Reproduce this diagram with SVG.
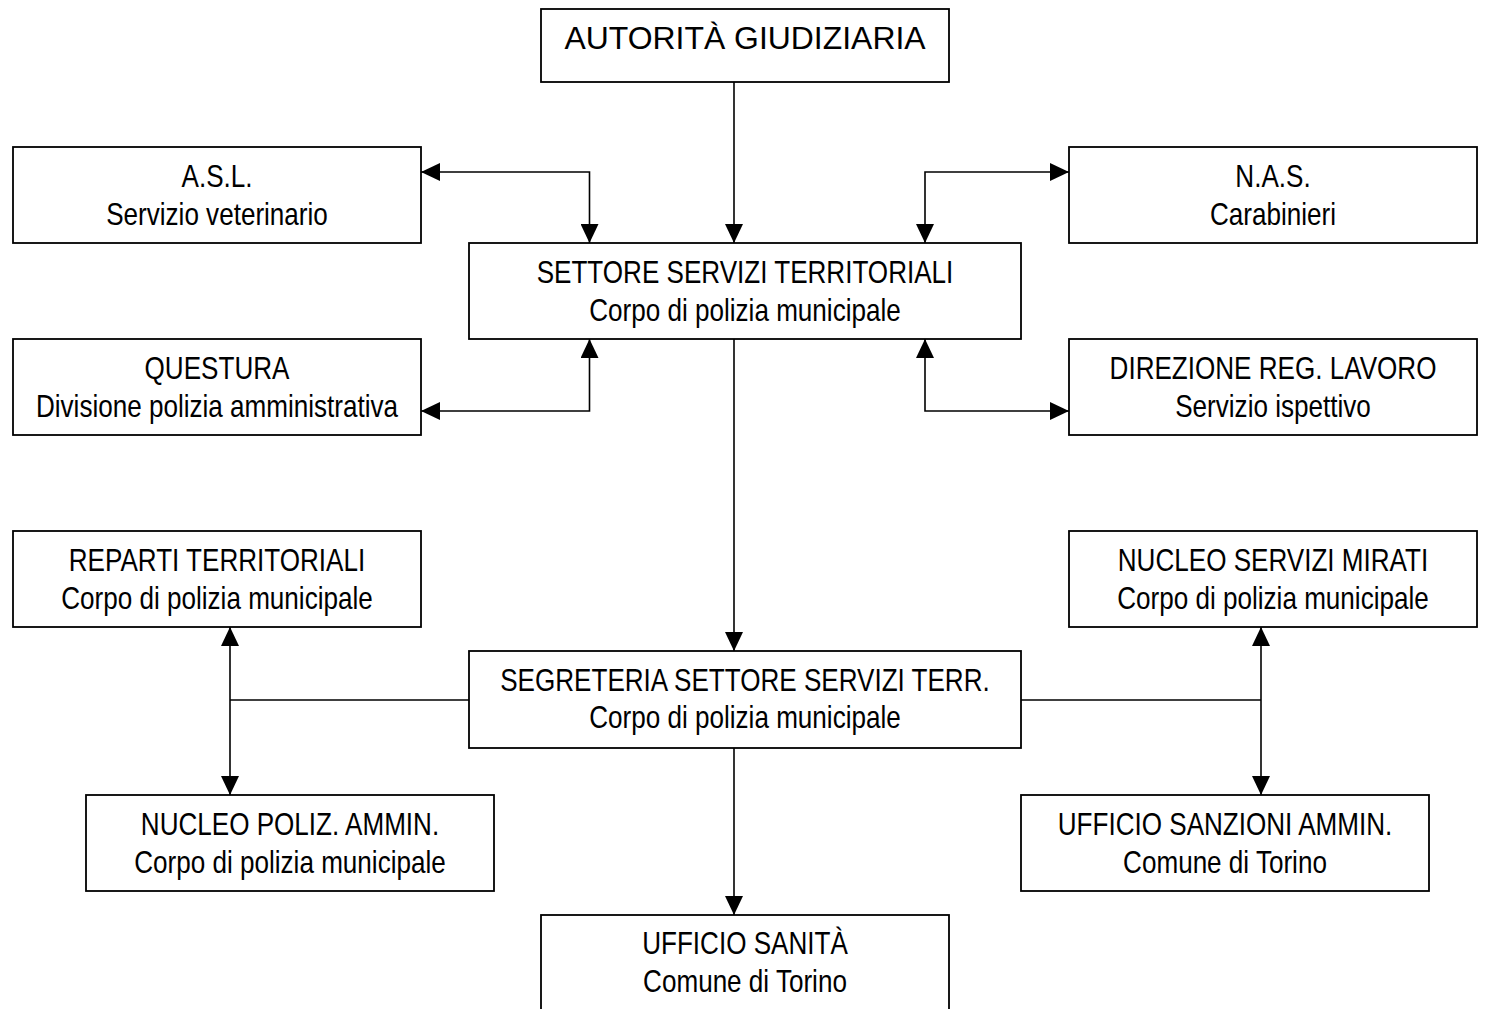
<svg xmlns="http://www.w3.org/2000/svg" width="1488" height="1009" viewBox="0 0 1488 1009">
<style>
.box{fill:#fff;stroke:#000;stroke-width:1.8}
.t{font-family:"Liberation Sans",Arial,sans-serif;font-size:30.5px;fill:#000;text-anchor:middle}
.c{fill:none;stroke:#000;stroke-width:1.6}
</style>
<defs>
<marker id="arr" viewBox="0 0 19 18" refX="19" refY="9" markerWidth="19" markerHeight="18" markerUnits="userSpaceOnUse" orient="auto-start-reverse">
<path d="M0,0 L19,9 L0,18 Z" fill="#000"/>
</marker>
</defs>
<rect width="1488" height="1009" fill="#fff"/>
<g id="connectors">
<path class="c" d="M734,82 V243" marker-end="url(#arr)"/>
<path class="c" d="M421,172 H589.5 V243" marker-start="url(#arr)" marker-end="url(#arr)"/>
<path class="c" d="M1069,172 H925 V243" marker-start="url(#arr)" marker-end="url(#arr)"/>
<path class="c" d="M421,411 H589.5 V339" marker-start="url(#arr)" marker-end="url(#arr)"/>
<path class="c" d="M1069,411 H925 V339" marker-start="url(#arr)" marker-end="url(#arr)"/>
<path class="c" d="M734,339 V651" marker-end="url(#arr)"/>
<path class="c" d="M469,700 H230"/>
<path class="c" d="M230,627 V795" marker-start="url(#arr)" marker-end="url(#arr)"/>
<path class="c" d="M1021,700 H1261"/>
<path class="c" d="M1261,627 V795" marker-start="url(#arr)" marker-end="url(#arr)"/>
<path class="c" d="M734,748 V915" marker-end="url(#arr)"/>
</g>
<g id="autorita">
<rect class="box" x="541" y="9" width="408" height="73"/>
<g transform="translate(745 0) scale(1.03 1)"><text class="t" x="0" y="49" style="font-size:31px">AUTORITÀ GIUDIZIARIA</text></g>
</g>
<g id="asl">
<rect class="box" x="13" y="147" width="408" height="96"/>
<g transform="translate(217 0) scale(0.855 1)"><text class="t" x="0" y="187">A.S.L.</text><text class="t" x="0" y="225">Servizio veterinario</text></g>
</g>
<g id="nas">
<rect class="box" x="1069" y="147" width="408" height="96"/>
<g transform="translate(1273 0) scale(0.855 1)"><text class="t" x="0" y="187">N.A.S.</text><text class="t" x="0" y="225">Carabinieri</text></g>
</g>
<g id="settore">
<rect class="box" x="469" y="243" width="552" height="96"/>
<g transform="translate(745 0) scale(0.855 1)"><text class="t" x="0" y="283">SETTORE SERVIZI TERRITORIALI</text><text class="t" x="0" y="321">Corpo di polizia municipale</text></g>
</g>
<g id="questura">
<rect class="box" x="13" y="339" width="408" height="96"/>
<g transform="translate(217 0) scale(0.855 1)"><text class="t" x="0" y="379">QUESTURA</text><text class="t" x="0" y="417">Divisione polizia amministrativa</text></g>
</g>
<g id="direzione">
<rect class="box" x="1069" y="339" width="408" height="96"/>
<g transform="translate(1273 0) scale(0.855 1)"><text class="t" x="0" y="379">DIREZIONE REG. LAVORO</text><text class="t" x="0" y="417">Servizio ispettivo</text></g>
</g>
<g id="reparti">
<rect class="box" x="13" y="531" width="408" height="96"/>
<g transform="translate(217 0) scale(0.855 1)"><text class="t" x="0" y="571">REPARTI TERRITORIALI</text><text class="t" x="0" y="609">Corpo di polizia municipale</text></g>
</g>
<g id="nucleo-servizi">
<rect class="box" x="1069" y="531" width="408" height="96"/>
<g transform="translate(1273 0) scale(0.855 1)"><text class="t" x="0" y="571">NUCLEO SERVIZI MIRATI</text><text class="t" x="0" y="609">Corpo di polizia municipale</text></g>
</g>
<g id="segreteria">
<rect class="box" x="469" y="651" width="552" height="97"/>
<g transform="translate(745 0) scale(0.855 1)"><text class="t" x="0" y="691">SEGRETERIA SETTORE SERVIZI TERR.</text><text class="t" x="0" y="728">Corpo di polizia municipale</text></g>
</g>
<g id="nucleo-poliz">
<rect class="box" x="86" y="795" width="408" height="96"/>
<g transform="translate(290 0) scale(0.855 1)"><text class="t" x="0" y="835">NUCLEO POLIZ. AMMIN.</text><text class="t" x="0" y="873">Corpo di polizia municipale</text></g>
</g>
<g id="ufficio-sanzioni">
<rect class="box" x="1021" y="795" width="408" height="96"/>
<g transform="translate(1225 0) scale(0.855 1)"><text class="t" x="0" y="835">UFFICIO SANZIONI AMMIN.</text><text class="t" x="0" y="873">Comune di Torino</text></g>
</g>
<g id="ufficio-sanita">
<rect class="box" x="541" y="915" width="408" height="120"/>
<g transform="translate(745 0) scale(0.855 1)"><text class="t" x="0" y="954">UFFICIO SANITÀ</text><text class="t" x="0" y="992">Comune di Torino</text></g>
</g>
</svg>
